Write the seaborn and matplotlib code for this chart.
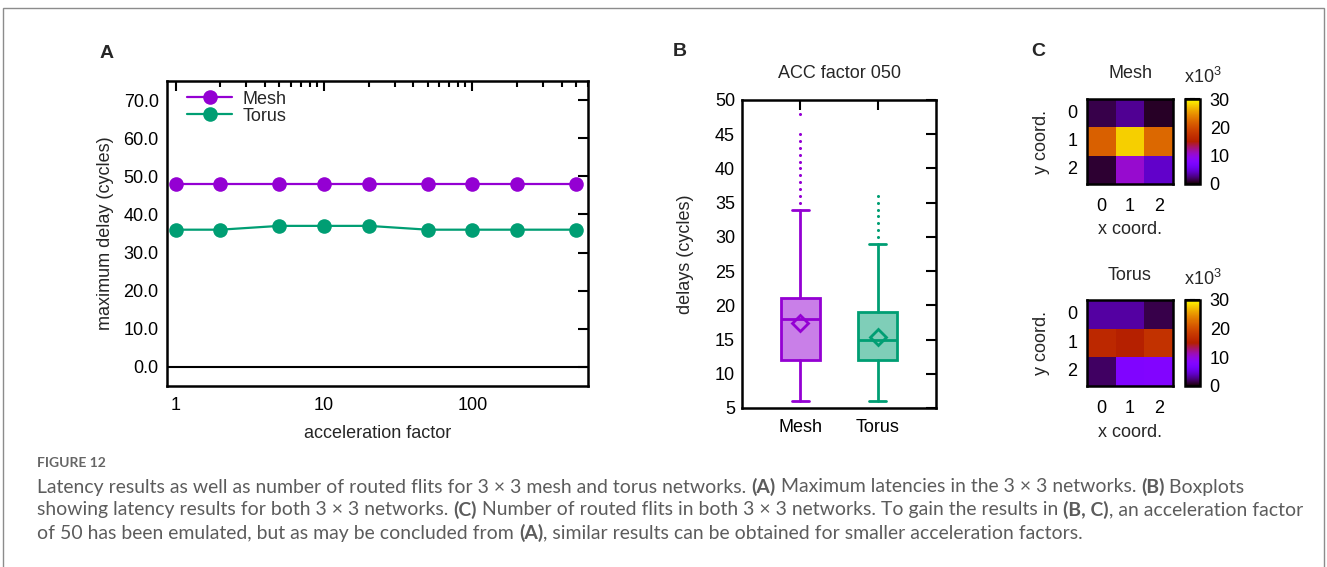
import numpy as np
import pandas as pd
import matplotlib
matplotlib.use("Agg")
import matplotlib.pyplot as plt
from matplotlib.lines import Line2D
from matplotlib.patches import Rectangle
from matplotlib.ticker import FixedLocator, NullFormatter, FormatStrFormatter
import seaborn as sns

# ---------------- data ----------------
factors = [1, 2, 5, 10, 20, 50, 100, 200, 500]
mesh_max_delay = [48, 48, 48, 48, 48, 48, 48, 48, 48]
torus_max_delay = [36, 36, 37, 37, 37, 36, 36, 36, 36]

networks = ["Mesh", "Torus"]
box_q1 = [12, 12]
box_median = [18, 15]
box_q3 = [21, 19]
whisker_low = [6, 6]
whisker_high = [34, 29]
box_mean = [17.4, 15.4]
mesh_outliers = [35, 36, 37, 38, 39, 40, 41, 42, 43, 44, 45, 48]
torus_outliers = [30, 31, 32, 33, 34, 35, 36]

# routed flits per router, in thousands (rows: y coord, cols: x coord)
coords = [0, 1, 2]
mesh_flits = [[1.5, 3.0, 0.75],
              [21.6, 27.9, 22.2],
              [1.05, 10.5, 4.35]]
torus_flits = [[3.3, 3.3, 1.5],
               [16.2, 15.0, 17.4],
               [1.95, 7.5, 7.8]]
cbar_ticks = [0, 10, 20, 30]

MESH = "#9400d3"
TORUS = "#009e73"

# ---------------- style ----------------
sns.set_theme(style="white")
plt.rcParams["font.family"] = ["Liberation Sans", "DejaVu Sans"]
plt.rcParams["mathtext.fontset"] = "custom"
plt.rcParams["mathtext.rm"] = "Liberation Sans"
plt.rcParams["mathtext.it"] = "Liberation Sans:italic"
plt.rcParams["mathtext.bf"] = "Liberation Sans:bold"
FS = 13

W, H = 1327, 567
fig = plt.figure(figsize=(W / 100, H / 100), dpi=100)
fig.patch.set_facecolor("white")


def px_rect(x0, y0, x1, y1):
    return [x0 / W, 1 - y1 / H, (x1 - x0) / W, (y1 - y0) / H]


def frame(ax, lw=1.8):
    for sp in ax.spines.values():
        sp.set_visible(True)
        sp.set_color("black")
        sp.set_linewidth(lw)


# ---------------- panel A ----------------
axA = fig.add_axes(px_rect(167, 81, 588, 386))
df = pd.DataFrame({
    "acceleration factor": factors * 2,
    "maximum delay": mesh_max_delay + torus_max_delay,
    "network": ["Mesh"] * len(factors) + ["Torus"] * len(factors),
})
sns.lineplot(data=df, x="acceleration factor", y="maximum delay", hue="network",
             palette={"Mesh": MESH, "Torus": TORUS}, marker="o", markersize=10.5,
             markeredgewidth=0, linewidth=1.6, ax=axA, legend=False, zorder=3)
axA.set_xscale("log")
axA.set_xlim(0.874, 603)
axA.set_ylim(-5, 75)
axA.axhline(0, color="black", lw=1.5, zorder=1)
axA.set_yticks(range(0, 80, 10))
axA.yaxis.set_major_formatter(FormatStrFormatter("%.1f"))
axA.set_xticks([1, 10, 100], labels=["1", "10", "100"])
axA.xaxis.set_minor_locator(FixedLocator([m * d for d in (1, 10, 100) for m in range(2, 10)]))
axA.xaxis.set_minor_formatter(NullFormatter())
axA.tick_params(which="both", direction="in", top=True, right=True, width=1.5,
                labelsize=FS, colors="black")
axA.tick_params(which="major", length=7)
axA.tick_params(which="minor", length=4)
axA.tick_params(axis="x", pad=8)
axA.tick_params(axis="y", pad=6)
frame(axA)
axA.set_xlabel("acceleration factor", fontsize=FS)
axA.set_ylabel("maximum delay (cycles)", fontsize=FS)
axA.xaxis.set_label_coords(0.5, (386 - 434) / 305)
axA.xaxis.label.set_va("center")
axA.yaxis.set_label_coords((105 - 167) / 421, 0.5)
axA.yaxis.label.set_va("center")
handles = [Line2D([], [], color=MESH, marker="o", markersize=10.5, mew=0, lw=1.6),
           Line2D([], [], color=TORUS, marker="o", markersize=10.5, mew=0, lw=1.6)]
axA.legend(handles, networks, loc="upper left", bbox_to_anchor=(0.0475, 0.968),
           frameon=False, handlelength=2.5, handletextpad=0.6, labelspacing=0.0,
           borderpad=0, borderaxespad=0, fontsize=FS)

# ---------------- panel B ----------------
axB = fig.add_axes(px_rect(742, 100, 936, 408))
outliers = [mesh_outliers, torus_outliers]
stats = [dict(label=networks[i], q1=box_q1[i], med=box_median[i], q3=box_q3[i],
              whislo=whisker_low[i], whishi=whisker_high[i], mean=box_mean[i],
              fliers=np.array(outliers[i], dtype=float)) for i in range(2)]
bp = axB.bxp(stats, positions=[1, 2], widths=0.5, showmeans=True, patch_artist=True,
             capwidths=0.22)
for i, col in enumerate([MESH, TORUS]):
    bp["boxes"][i].set_facecolor(matplotlib.colors.to_rgba(col, 0.5))
    bp["boxes"][i].set_edgecolor(col)
    bp["boxes"][i].set_linewidth(2)
    bp["medians"][i].set_color(col)
    bp["medians"][i].set_linewidth(2)
    for ln in bp["whiskers"][2 * i:2 * i + 2] + bp["caps"][2 * i:2 * i + 2]:
        ln.set_color(col)
        ln.set_linewidth(2)
    bp["fliers"][i].set(marker="o", markersize=2.2, markerfacecolor=col,
                        markeredgecolor=col, markeredgewidth=0)
    bp["means"][i].set(marker="D", markersize=8.5, markerfacecolor="none",
                       markeredgecolor=col, markeredgewidth=2)
axB.set_xlim(0.25, 2.75)
axB.set_ylim(5, 50)
axB.set_yticks(range(5, 55, 5))
axB.set_xticks([1, 2], labels=networks)
axB.tick_params(which="major", direction="in", top=True, right=True, width=1.5,
                length=7, labelsize=FS, colors="black")
axB.tick_params(axis="x", pad=8)
axB.tick_params(axis="y", pad=5)
frame(axB)
axB.set_ylabel("delays (cycles)", fontsize=FS)
axB.yaxis.set_label_coords((686 - 742) / 194, 0.5)
axB.yaxis.label.set_va("center")
axB.text(0.5, 1 + (100 - 73) / 308, "ACC factor 050", transform=axB.transAxes,
         ha="center", va="center", fontsize=FS)

# ---------------- panel C ----------------
def heat(data, title, y0, y1, title_y, xlabel_y):
    ax = fig.add_axes(px_rect(1087, y0, 1173, y1))
    cax = fig.add_axes(px_rect(1185, y0, 1200, y1))
    sns.heatmap(np.array(data), ax=ax, cbar_ax=cax, cmap="gnuplot", vmin=0, vmax=30,
                xticklabels=coords, yticklabels=coords, linewidths=0)
    ax.tick_params(length=0, labelsize=FS, colors="black")
    ax.tick_params(axis="x", pad=10)
    ax.tick_params(axis="y", pad=7)
    ax.set_yticklabels(coords, rotation=0)
    frame(ax)
    hgt = y1 - y0
    ax.set_xlabel("x coord.", fontsize=FS)
    ax.xaxis.set_label_coords(0.5, -(xlabel_y - y1) / hgt)
    ax.xaxis.label.set_va("center")
    ax.set_ylabel("y coord.", fontsize=FS)
    ax.yaxis.set_label_coords((1042 - 1087) / 86, 0.5)
    ax.yaxis.label.set_va("center")
    ax.text(0.5, 1 + (y0 - title_y) / hgt, title, transform=ax.transAxes,
            ha="center", va="center", fontsize=FS)
    cb = ax.collections[0].colorbar
    cb.set_ticks(cbar_ticks)
    cb.outline.set_edgecolor("black")
    cb.outline.set_linewidth(1.8)
    cax.tick_params(direction="in", length=7, width=1.5, left=True, right=True,
                    labelleft=False, labelright=True, labelsize=FS, pad=7, colors="black")
    fig.text(1203 / W, 1 - (title_y + 4) / H, "x10$^3$", ha="center", va="center",
             fontsize=FS)
    return ax


heat(mesh_flits, "Mesh", 99, 184, 73, 230)
heat(torus_flits, "Torus", 300, 386, 275, 433)

# ---------------- panel letters ----------------
for letter, x, y in [("A", 107, 53), ("B", 680, 52), ("C", 1038, 52)]:
    fig.text(x / W, 1 - y / H, letter, ha="center", va="center", fontsize=14,
             fontweight="bold")

# ---------------- caption ----------------
CAP = "#5c5c5c"
CAP_FONT = ["Lato", "DejaVu Sans"]
renderer = fig.canvas.get_renderer()


def seg_width(s, size, bold):
    kw = dict(fontsize=size, family=CAP_FONT, fontweight="bold" if bold else "normal")
    t1 = fig.text(0, 0, "|" + s + "|", **kw)
    t2 = fig.text(0, 0, "||", **kw)
    w = t1.get_window_extent(renderer).width - t2.get_window_extent(renderer).width
    t1.remove()
    t2.remove()
    return w


cap_lines = [
    [("Latency results as well as number of routed flits for 3 \u00d7 3 mesh and torus networks. ", False),
     ("(A)", True), (" Maximum latencies in the 3 \u00d7 3 networks. ", False), ("(B)", True),
     (" Boxplots", False)],
    [("showing latency results for both 3 \u00d7 3 networks. ", False), ("(C)", True),
     (" Number of routed flits in both 3 \u00d7 3 networks. To gain the results in ", False),
     ("(B, C)", True), (", an acceleration factor", False)],
    [("of 50 has been emulated, but as may be concluded from ", False), ("(A)", True),
     (", similar results can be obtained for smaller acceleration factors.", False)],
]
probe = sum(seg_width(s, 12, b) for s, b in cap_lines[1])
cap_size = 12 * (1293 - 37) / probe

for segs, y in zip(cap_lines, [487, 510, 533]):
    x = 37
    for s, b in segs:
        fig.text(x / W, 1 - y / H, s, ha="left", va="center", fontsize=cap_size,
                 family=CAP_FONT, fontweight="bold" if b else "normal", color=CAP)
        x += seg_width(s, cap_size, b)

fig.text(37 / W, 1 - 463 / H, "FIGURE 12", ha="left", va="center", fontsize=10,
         family=CAP_FONT, fontweight="bold", color="#666666")

fig.patches.append(Rectangle((3 / W, -0.05), (1324 - 3) / W, 1 - 8 / H + 0.05,
                             transform=fig.transFigure, fill=False,
                             edgecolor="#8c8c8c", linewidth=1))

fig.savefig("out.png", dpi=100)
